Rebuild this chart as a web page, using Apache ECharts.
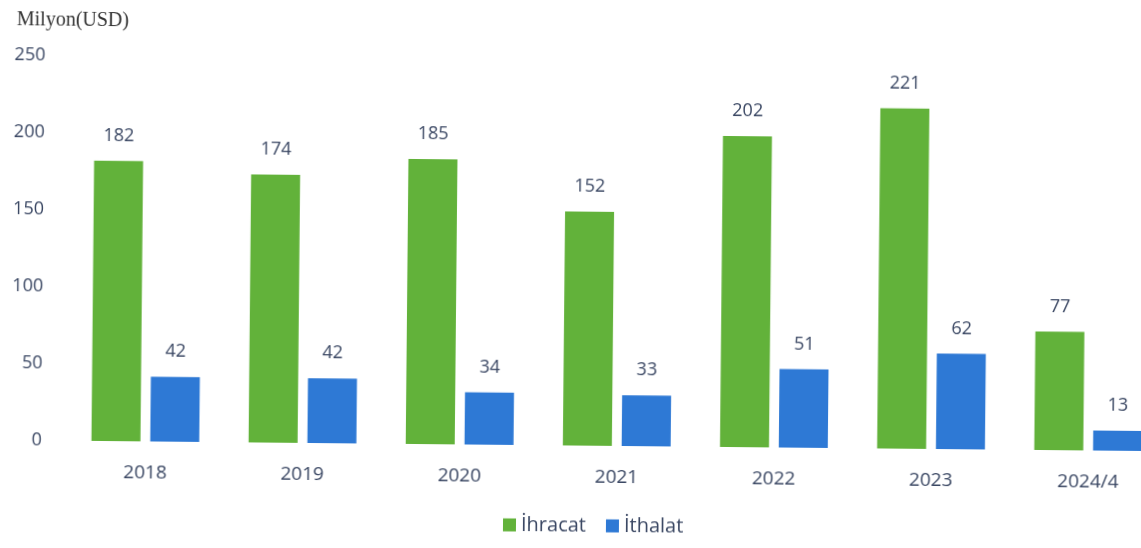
<!DOCTYPE html>
<html><head><meta charset="utf-8">
<script src="https://cdn.jsdelivr.net/npm/echarts@6/dist/echarts.min.js"></script>
<style>html,body{margin:0;padding:0;background:#fff;overflow:hidden;width:1141px;height:548px}#c{width:1171px;height:548px;transform:rotate(0.55deg);transform-origin:0 0}</style>
</head><body><div id="c"></div>
<script>
const categories = ['2018','2019','2020','2021','2022','2023','2024/4'];
const ihracat = [182,174,185,152,202,221,77];
const ithalat = [42,42,34,33,51,62,13];
const yTicks = [0,50,100,150,200,250];

const chart = echarts.init(document.getElementById('c'));
const txt = '#3a4763';
const lbl = {show:true, position:'top', distance:16, color:txt, fontFamily:'Open Sans', fontSize:18};
chart.setOption({
  animation:false,
  title:{text:'Milyon(USD)', left:12, top:5, textStyle:{fontFamily:'Liberation Serif', fontSize:20, fontWeight:'normal', color:'#333'}},
  legend:{bottom:13, left:503, itemWidth:13, itemHeight:13, itemGap:20, icon:'rect',
    textStyle:{fontFamily:'Open Sans', fontSize:20, color:txt}, data:['İhracat','İthalat']},
  grid:{left:71, top:55, right:0, bottom:108},
  xAxis:{type:'category', data:categories, axisLine:{show:false}, axisTick:{show:false},
    axisLabel:{margin:22, color:txt, fontFamily:'Open Sans', fontSize:19}},
  yAxis:{type:'value', min:0, max:250, interval:50, splitLine:{show:false}, axisLine:{show:false},
    axisLabel:{color:txt, fontFamily:'Open Sans', fontSize:18, margin:25,
      formatter:v=>yTicks.includes(v)?String(v):''}},
  series:[
    {name:'İhracat', type:'bar', data:ihracat, barWidth:49, barGap:'20%',
      itemStyle:{color:'#62b23a'}, label:lbl},
    {name:'İthalat', type:'bar', data:ithalat, barWidth:49,
      itemStyle:{color:'#2e79d5'}, label:lbl}
  ]
});
</script></body></html>
